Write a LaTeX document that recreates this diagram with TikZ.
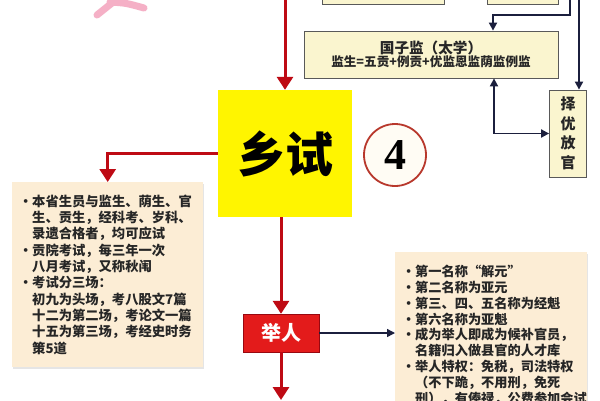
\documentclass[tikz,border=0pt]{standalone}
\usepackage{fontspec}
\newfontfamily\cjk{Noto Sans CJK SC}
\newfontfamily\numfont{Liberation Serif}
\usetikzlibrary{arrows.meta, shadows}
\definecolor{hongse}{HTML}{BE0A14}
\definecolor{jured}{HTML}{E31B1B}
\definecolor{navy}{HTML}{1B1F3D}
\definecolor{xsyellow}{HTML}{FFF500}
\definecolor{jianfill}{HTML}{FAF5CF}
\definecolor{peach}{HTML}{FCEDD5}
\definecolor{circred}{HTML}{B8382C}
\definecolor{circfill}{HTML}{FFFCF4}
\definecolor{pinkish}{HTML}{F5B0C6}
\newcommand{\dotitem}{\makebox[13pt][c]{\textbullet}}
\newcommand{\indentln}{\hspace*{13pt}}

\begin{document}
\begin{tikzpicture}[x=1pt, y=-1pt,
        redarrow/.style ={-{Triangle[width=16pt,length=13pt]}, line width=3pt, draw=hongse},
        navyarrow/.style ={-{Triangle[width=8pt,length=8pt]}, line width=1.8pt, draw=navy},
        jianbox/.style ={rectangle, draw=black!65, fill=jianfill, line width=0.8pt, text=black!85,
        font=\cjk\bfseries},
        infobox/.style ={rectangle, fill=peach, align=left, inner xsep=7pt, text=black!85,
        drop shadow={opacity=0.2, shadow xshift=1pt, shadow yshift=-2pt}}]

        \fill[white] (0,0) rectangle (600,400);
        \useasboundingbox (0,0) rectangle (600,400);

        \draw[pinkish, line width=7pt, line cap=round] (97,15) -- (112,3);
        \draw[pinkish, line width=7pt, line cap=round] (110,2) .. controls (126,3) .. (144,8);

        \node[jianbox, minimum width=122pt, minimum height=40pt] (tbox1) at (383, -16) {};
        \node[jianbox, minimum width=71pt, minimum height=40pt] (tbox2) at (522.5, -16) {};
        \node[jianbox, minimum width=254pt, minimum height=47pt, align=center] (gzj) at (431, 54.5)
            {{\fontsize{14.6}{19}\selectfont 国子监（太学）}\\{\fontsize{12.6}{19}\selectfont 监生=五贡+例贡+优监恩监荫监例监}};
        \node[jianbox, minimum width=37pt, minimum height=87pt, align=center,
            font=\cjk\bfseries\fontsize{15}{19.5}\selectfont] (zeyou) at (568, 133.5) {择\\优\\放\\官};

        \node[fill=xsyellow, minimum width=134pt, minimum height=127pt,
            font=\cjk\bfseries\fontsize{48}{48}\selectfont] (xiangshi) at (285, 153.5) {乡试};
        \node[circle, draw=circred, line width=1.8pt, fill=circfill, minimum size=62pt, inner sep=0pt,
            font=\numfont\bfseries\fontsize{44}{44}\selectfont] (num) at (395, 155) {4};

        \node[infobox, anchor=north west, text width=177pt, minimum height=185pt,
            font=\cjk\bfseries\fontsize{13.3}{16.3}\selectfont] (lbox) at (12, 182)
            {\dotitem 本省生员与监生、荫生、官\\
             \indentln 生、贡生，经科考、岁科、\\
             \indentln 录遗合格者，均可应试\\
             \dotitem 贡院考试，每三年一次\\
             \indentln 八月考试，又称秋闱\\
             \dotitem 考试分三场：\\
             \indentln 初九为头场，考八股文7篇\\
             \indentln 十二为第二场，考论文一篇\\
             \indentln 十五为第三场，考经史时务\\
             \indentln 策5道};

        \node[fill=jured, draw=hongse!80!black, minimum width=76pt, minimum height=38pt, text=white,
            font=\cjk\bfseries\fontsize{20}{20}\selectfont] (juren) at (281, 333) {举人};

        \node[infobox, anchor=north west, text width=178pt, inner ysep=13pt,
            font=\cjk\bfseries\fontsize{13.2}{15.8}\selectfont] (rbox) at (395, 252)
            {\dotitem 第一名称“解元”\\
             \dotitem 第二名称为亚元\\
             \dotitem 第三、四、五名称为经魁\\
             \dotitem 第六名称为亚魁\\
             \dotitem 成为举人即成为候补官员，\\
             \indentln 名籍归入做县官的人才库\\
             \dotitem 举人特权：免税，司法特权\\
             \indentln （不下跪，不用刑，免死\\
             \indentln 刑），有俸禄，公费参加会试};

        \coordinate (topR) at (285, -5);
        \coordinate (topA) at (570, -5);
        \coordinate (bendA) at (493, 15);
        \coordinate (topB) at (579, -5);
        \coordinate (bendC) at (494, 134);
        \coordinate (bottom) at (281, 400);

        \draw[redarrow] (topR) -- (xiangshi.north);
        \draw[redarrow] (xiangshi.west) -| (lbox.north);
        \draw[redarrow] (xiangshi.south -| juren.north) -- (juren.north);
        \draw[redarrow] (juren.south) -- (bottom);

        \draw[navyarrow] (topA) |- (bendA) -- (gzj.north -| bendA);
        \draw[navyarrow] (topB) -- (zeyou.north -| topB);
        \draw[navyarrow, {Triangle[width=8pt,length=8pt]}-{Triangle[width=8pt,length=8pt]}]
            (gzj.south -| bendC) |- (zeyou.west);
        \draw[navyarrow, line width=1.4pt] (juren.east) -- (rbox.west |- juren.east);
    \end{tikzpicture}
\end{document}
